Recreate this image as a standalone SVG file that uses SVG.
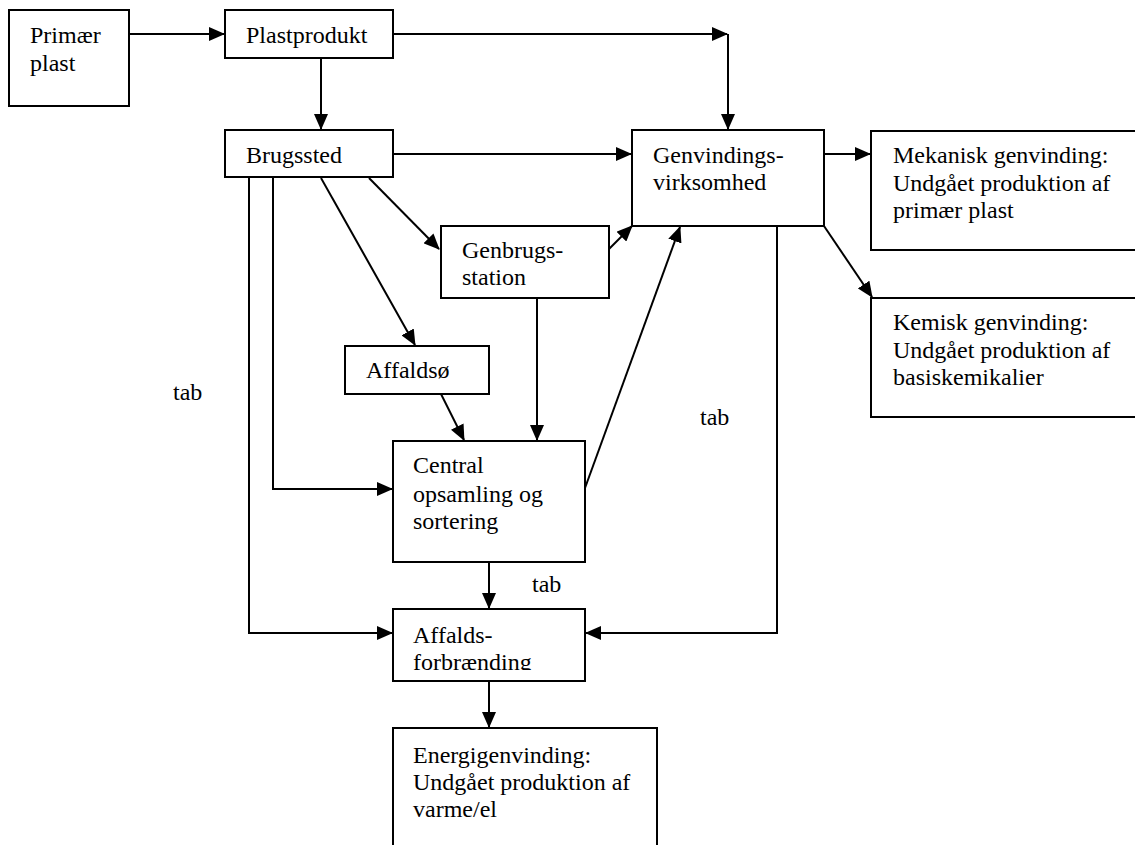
<svg xmlns="http://www.w3.org/2000/svg" width="1135" height="845" viewBox="0 0 1135 845">
  <style>
    .box { fill: #fff; stroke: #000; stroke-width: 2; }
    .lbl { font-family: "Liberation Serif", "Times New Roman", serif; font-size: 24px; fill: #000; }
    .edge { fill: none; stroke: #000; stroke-width: 2; }
  </style>
  <defs>
    <marker id="arrow" markerUnits="userSpaceOnUse" markerWidth="16" markerHeight="14" refX="15" refY="7" orient="auto">
      <path d="M0,0 L16,7 L0,14 z" fill="#000"/>
    </marker>
    <clipPath id="clipForbr">
      <rect x="393" y="609" width="192" height="61"/>
    </clipPath>
  </defs>

  <rect width="1135" height="845" fill="#fff"/>

  <!-- connectors -->
  <g id="connectors">
    <line class="edge" x1="129" y1="34" x2="224" y2="34" marker-end="url(#arrow)"/>
    <line class="edge" x1="321" y1="58" x2="321" y2="129" marker-end="url(#arrow)"/>
    <line class="edge" x1="393" y1="34" x2="727" y2="34" marker-end="url(#arrow)"/>
    <line class="edge" x1="728" y1="34" x2="728" y2="129" marker-end="url(#arrow)"/>
    <line class="edge" x1="393" y1="154" x2="631" y2="154" marker-end="url(#arrow)"/>
    <line class="edge" x1="824" y1="154" x2="870" y2="154" marker-end="url(#arrow)"/>
    <line class="edge" x1="824" y1="226" x2="872" y2="297" marker-end="url(#arrow)"/>
    <line class="edge" x1="369" y1="178" x2="439" y2="249" marker-end="url(#arrow)"/>
    <line class="edge" x1="321" y1="178" x2="415" y2="345" marker-end="url(#arrow)"/>
    <line class="edge" x1="609" y1="249" x2="632" y2="226" marker-end="url(#arrow)"/>
    <line class="edge" x1="537" y1="298" x2="537" y2="440" marker-end="url(#arrow)"/>
    <line class="edge" x1="441" y1="394" x2="464" y2="440" marker-end="url(#arrow)"/>
    <polyline class="edge" points="273,178 273,489 392,489" marker-end="url(#arrow)"/>
    <polyline class="edge" points="249,178 249,633 392,633" marker-end="url(#arrow)"/>
    <line class="edge" x1="585" y1="488" x2="680" y2="227" marker-end="url(#arrow)"/>
    <line class="edge" x1="489" y1="562" x2="489" y2="608" marker-end="url(#arrow)"/>
    <polyline class="edge" points="777,226 777,633 586,633" marker-end="url(#arrow)"/>
    <line class="edge" x1="489" y1="681" x2="489" y2="727" marker-end="url(#arrow)"/>
  </g>

  <g id="primaer-plast">
    <rect class="box" x="9" y="10" width="120" height="96"/>
    <text class="lbl" x="30" y="43">Primær</text>
    <text class="lbl" x="30" y="71">plast</text>
  </g>

  <g id="plastprodukt">
    <rect class="box" x="225" y="10" width="168" height="48"/>
    <text class="lbl" x="246" y="43">Plastprodukt</text>
  </g>

  <g id="brugssted">
    <rect class="box" x="225" y="130" width="168" height="47"/>
    <text class="lbl" x="246" y="163">Brugssted</text>
  </g>

  <g id="genvindingsvirksomhed">
    <rect class="box" x="632" y="130" width="192" height="96"/>
    <text class="lbl" x="653" y="163">Genvindings-</text>
    <text class="lbl" x="653" y="190">virksomhed</text>
  </g>

  <g id="mekanisk">
    <rect class="box" x="871" y="131" width="280" height="119"/>
    <text class="lbl" x="893" y="163">Mekanisk genvinding:</text>
    <text class="lbl" x="893" y="191">Undgået produktion af</text>
    <text class="lbl" x="893" y="218">primær plast</text>
  </g>

  <g id="kemisk">
    <rect class="box" x="871" y="298" width="280" height="119"/>
    <text class="lbl" x="893" y="330">Kemisk genvinding:</text>
    <text class="lbl" x="893" y="358">Undgået produktion af</text>
    <text class="lbl" x="893" y="385">basiskemikalier</text>
  </g>

  <g id="genbrugsstation">
    <rect class="box" x="441" y="226" width="168" height="72"/>
    <text class="lbl" x="462" y="258">Genbrugs-</text>
    <text class="lbl" x="462" y="285">station</text>
  </g>

  <g id="affaldsoe">
    <rect class="box" x="345" y="346" width="144" height="48"/>
    <text class="lbl" x="366" y="378">Affaldsø</text>
  </g>

  <g id="central">
    <rect class="box" x="393" y="441" width="192" height="121"/>
    <text class="lbl" x="413" y="473">Central</text>
    <text class="lbl" x="413" y="502">opsamling og</text>
    <text class="lbl" x="413" y="529">sortering</text>
  </g>

  <g id="affaldsforbraending">
    <rect class="box" x="393" y="609" width="192" height="72"/>
    <g clip-path="url(#clipForbr)">
      <text class="lbl" x="413" y="643">Affalds-</text>
      <text class="lbl" x="413" y="670">forbrænding</text>
    </g>
  </g>

  <g id="energigenvinding">
    <rect class="box" x="393" y="728" width="264" height="140"/>
    <text class="lbl" x="413" y="763">Energigenvinding:</text>
    <text class="lbl" x="413" y="790">Undgået produktion af</text>
    <text class="lbl" x="413" y="817">varme/el</text>
  </g>

  <g id="labels">
    <text class="lbl" x="173" y="400">tab</text>
    <text class="lbl" x="700" y="425">tab</text>
    <text class="lbl" x="532" y="592">tab</text>
  </g>
</svg>
